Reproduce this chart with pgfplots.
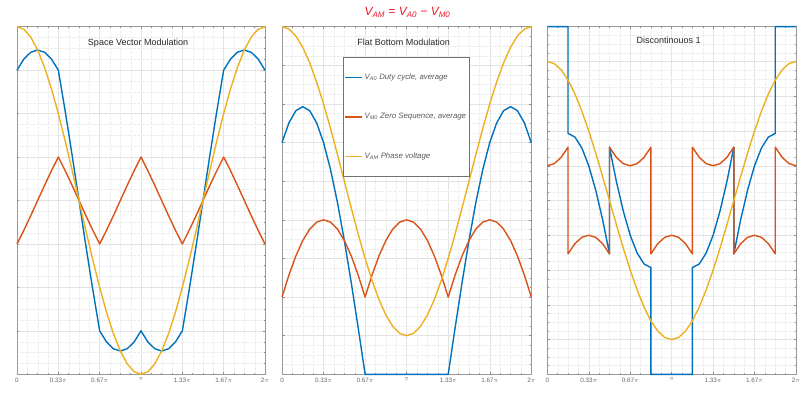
\documentclass[border=0pt]{standalone}
\usepackage{pgfplots}
\pgfplotsset{compat=1.18}
\usepackage{fontspec}
\setmainfont{Liberation Sans}
\definecolor{mblue}{RGB}{0,114,189}
\definecolor{morange}{RGB}{217,83,25}
\definecolor{myellow}{RGB}{237,177,32}
\definecolor{tred}{RGB}{240,22,32}
\tikzset{ptitle/.style={font=\fontsize{9}{10}\selectfont, text=black!85}}
\pgfplotsset{
  panel/.style={
    scale only axis, height=347.6pt, anchor=south west,
    xmin=0, xmax=360, xtick={0,60,...,360},
    xticklabels={0, 0.33$\pi$, 0.67$\pi$, $\pi$, 1.33$\pi$, 1.67$\pi$, 2$\pi$},
    minor x tick num=3, minor y tick num=3,
    yticklabels={},
    grid=both,
    major grid style={black!11, line width=0.4pt},
    minor grid style={black!7, line width=0.3pt, densely dotted},
    axis line style={black!40, line width=0.6pt},
    tick align=inside, major tick length=2.5pt, minor tick length=1.3pt,
    tick style={black!45, line width=0.4pt},
    xticklabel style={font=\fontsize{6.3}{7}\selectfont, text=black!60},
    clip=false,
    every axis plot/.append style={line width=1.4pt, line join=round},
  },
}
\begin{document}
\begin{tikzpicture}
% ---------------- Panel 1: SVM ----------------
\begin{axis}[panel, at={(17pt,19.7pt)}, width=248pt,
  ymin=-1, ymax=1, ytick={-1,-0.75,...,1}]
\addplot[mblue] coordinates {(0,0.75)(10,0.814)(20,0.853)(30,0.866)(40,0.853)(50,0.814)(60,0.75)(70,0.513)(80,0.261)(90,0)(100,-0.261)(110,-0.513)(120,-0.75)(130,-0.814)(140,-0.853)(150,-0.866)(160,-0.853)(170,-0.814)(180,-0.75)(190,-0.814)(200,-0.853)(210,-0.866)(220,-0.853)(230,-0.814)(240,-0.75)(250,-0.513)(260,-0.261)(270,0)(280,0.261)(290,0.513)(300,0.75)(310,0.814)(320,0.853)(330,0.866)(340,0.853)(350,0.814)(360,0.75)};
\addplot[morange] coordinates {(0,-0.25)(10,-0.171)(20,-0.087)(30,0)(40,0.087)(50,0.171)(60,0.25)(70,0.171)(80,0.087)(90,0)(100,-0.087)(110,-0.171)(120,-0.25)(130,-0.171)(140,-0.087)(150,0)(160,0.087)(170,0.171)(180,0.25)(190,0.171)(200,0.087)(210,0)(220,-0.087)(230,-0.171)(240,-0.25)(250,-0.171)(260,-0.087)(270,0)(280,0.087)(290,0.171)(300,0.25)(310,0.171)(320,0.087)(330,0)(340,-0.087)(350,-0.171)(360,-0.25)};
\addplot[myellow] coordinates {(0,1)(10,0.985)(20,0.940)(30,0.866)(40,0.766)(50,0.643)(60,0.5)(70,0.342)(80,0.174)(90,0)(100,-0.174)(110,-0.342)(120,-0.5)(130,-0.643)(140,-0.766)(150,-0.866)(160,-0.940)(170,-0.985)(180,-1)(190,-0.985)(200,-0.940)(210,-0.866)(220,-0.766)(230,-0.643)(240,-0.5)(250,-0.342)(260,-0.174)(270,0)(280,0.174)(290,0.342)(300,0.5)(310,0.643)(320,0.766)(330,0.866)(340,0.940)(350,0.985)(360,1)};
\node[ptitle] at (rel axis cs:0.488,0.953) {Space Vector Modulation};
\end{axis}
% ---------------- Panel 2: Flat bottom ----------------
\begin{axis}[panel, at={(282pt,19.7pt)}, width=249.3pt,
  ymin=-1, ymax=0.8, ytick={-1,-0.8,...,0.81},
  legend style={at={(rel axis cs:0.245,0.913)}, anchor=north west,
    draw=black!55, fill=white, line width=0.5pt,
    inner xsep=1pt, inner ysep=14.5pt, row sep=28.5pt,
    font=\fontsize{7.8}{9}\selectfont\itshape, text=black!65,
    cells={anchor=west}},
  legend image code/.code={\draw[#1, line width=1.4pt] (0pt,0pt) -- (17pt,0pt);}]
\addplot[mblue] coordinates {(0,0.2)(10,0.302)(20,0.365)(30,0.386)(40,0.365)(50,0.302)(60,0.2)(70,0.061)(80,-0.109)(90,-0.307)(100,-0.526)(110,-0.759)(120,-1)(180,-1)(240,-1)(250,-0.759)(260,-0.526)(270,-0.307)(280,-0.109)(290,0.061)(300,0.2)(310,0.302)(320,0.365)(330,0.386)(340,0.365)(350,0.302)(360,0.2)};
\addlegendentry{V\textsubscript{A0} Duty cycle, average}
\addplot[morange] coordinates {(0,-0.6)(10,-0.486)(20,-0.387)(30,-0.307)(40,-0.248)(50,-0.212)(60,-0.2)(70,-0.212)(80,-0.248)(90,-0.307)(100,-0.387)(110,-0.486)(120,-0.6)(130,-0.486)(140,-0.387)(150,-0.307)(160,-0.248)(170,-0.212)(180,-0.2)(190,-0.212)(200,-0.248)(210,-0.307)(220,-0.387)(230,-0.486)(240,-0.6)(250,-0.486)(260,-0.387)(270,-0.307)(280,-0.248)(290,-0.212)(300,-0.2)(310,-0.212)(320,-0.248)(330,-0.307)(340,-0.387)(350,-0.486)(360,-0.6)};
\addlegendentry{V\textsubscript{M0} Zero Sequence, average}
\addplot[myellow] coordinates {(0,0.8)(10,0.788)(20,0.752)(30,0.693)(40,0.613)(50,0.514)(60,0.4)(70,0.274)(80,0.139)(90,0)(100,-0.139)(110,-0.274)(120,-0.4)(130,-0.514)(140,-0.613)(150,-0.693)(160,-0.752)(170,-0.788)(180,-0.8)(190,-0.788)(200,-0.752)(210,-0.693)(220,-0.613)(230,-0.514)(240,-0.4)(250,-0.274)(260,-0.139)(270,0)(280,0.139)(290,0.274)(300,0.4)(310,0.514)(320,0.613)(330,0.693)(340,0.752)(350,0.788)(360,0.8)};
\addlegendentry{V\textsubscript{AM} Phase voltage}
\node[ptitle] at (rel axis cs:0.488,0.956) {Flat Bottom Modulation};
\end{axis}
% ---------------- Panel 3: Discontinuous ----------------
\begin{axis}[panel, at={(547.3pt,19.7pt)}, width=248.7pt,
  ymin=-1, ymax=1, ytick={-1,-0.8,...,1.01}]
\addplot[mblue] coordinates {(0,1)(10,1)(20,1)(30,1)(30,0.386)(40,0.365)(50,0.302)(60,0.2)(70,0.061)(80,-0.109)(90,-0.307)(90,0.307)(100,0.109)(110,-0.061)(120,-0.2)(130,-0.302)(140,-0.365)(150,-0.386)(150,-1)(180,-1)(210,-1)(210,-0.386)(220,-0.365)(230,-0.302)(240,-0.2)(250,-0.061)(260,0.109)(270,0.307)(270,-0.307)(280,-0.109)(290,0.061)(300,0.2)(310,0.302)(320,0.365)(330,0.386)(330,1)(360,1)};
\addplot[morange] coordinates {(0,0.2)(10,0.212)(20,0.248)(30,0.307)(30,-0.307)(40,-0.248)(50,-0.212)(60,-0.2)(70,-0.212)(80,-0.248)(90,-0.307)(90,0.307)(100,0.248)(110,0.212)(120,0.2)(130,0.212)(140,0.248)(150,0.307)(150,-0.307)(160,-0.248)(170,-0.212)(180,-0.2)(190,-0.212)(200,-0.248)(210,-0.307)(210,0.307)(220,0.248)(230,0.212)(240,0.2)(250,0.212)(260,0.248)(270,0.307)(270,-0.307)(280,-0.248)(290,-0.212)(300,-0.2)(310,-0.212)(320,-0.248)(330,-0.307)(330,0.307)(340,0.248)(350,0.212)(360,0.2)};
\addplot[myellow] coordinates {(0,0.8)(10,0.788)(20,0.752)(30,0.693)(40,0.613)(50,0.514)(60,0.4)(70,0.274)(80,0.139)(90,0)(100,-0.139)(110,-0.274)(120,-0.4)(130,-0.514)(140,-0.613)(150,-0.693)(160,-0.752)(170,-0.788)(180,-0.8)(190,-0.788)(200,-0.752)(210,-0.693)(220,-0.613)(230,-0.514)(240,-0.4)(250,-0.274)(260,-0.139)(270,0)(280,0.139)(290,0.274)(300,0.4)(310,0.514)(320,0.613)(330,0.693)(340,0.752)(350,0.788)(360,0.8)};
\node[ptitle] at (rel axis cs:0.488,0.962) {Discontinouos 1};
\end{axis}
% ---------------- overall title ----------------
\node[anchor=base, text=tred, font=\fontsize{12}{14}\selectfont\itshape] at (407.5pt,378.5pt)
  {V\textsubscript{AM} = V\textsubscript{A0} − V\textsubscript{M0}};
\pgfresetboundingbox
\useasboundingbox (0,0) rectangle (803pt,394pt);
\end{tikzpicture}
\end{document}
